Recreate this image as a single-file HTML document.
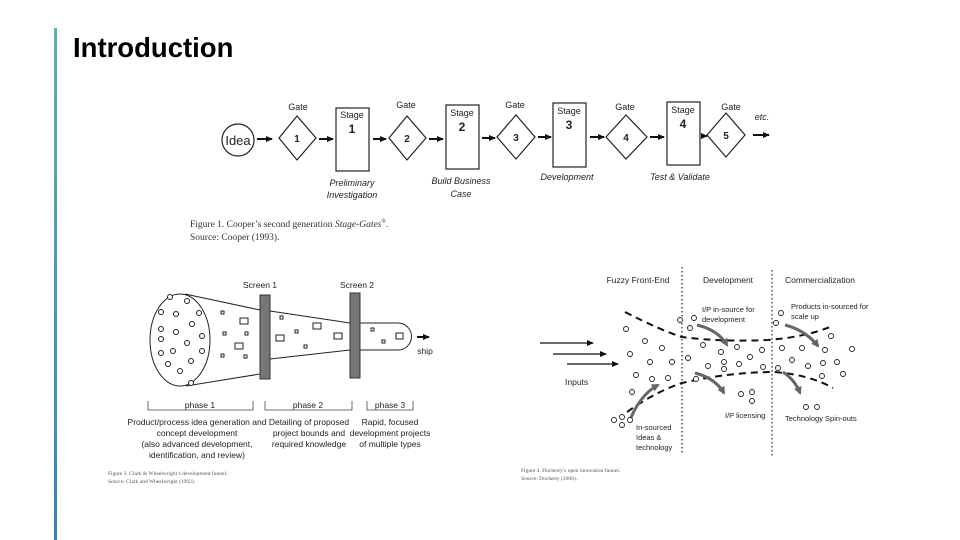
<!DOCTYPE html>
<html><head><meta charset="utf-8"><style>
html,body{margin:0;padding:0;background:#fff;}
body{width:960px;height:540px;position:relative;overflow:hidden;font-family:"Liberation Sans",sans-serif;}
.bar{position:absolute;left:54px;top:28px;width:3px;height:512px;background:linear-gradient(#5bb3a4,#3a7fc4);}
h1{position:absolute;left:73px;top:32px;margin:0;font-size:27.5px;font-weight:bold;color:#000;}
svg{position:absolute;left:0;top:0;}
</style></head><body>
<div class="bar"></div>
<h1>Introduction</h1>
<svg width="960" height="540" viewBox="0 0 960 540" font-family="Liberation Sans, sans-serif">
<defs>
<marker id="ah" markerUnits="userSpaceOnUse" markerWidth="7" markerHeight="7" refX="6" refY="3.5" orient="auto"><path d="M0,0.5 L7,3.5 L0,6.5 z" fill="#111"/></marker>
<marker id="gh" markerUnits="userSpaceOnUse" markerWidth="8" markerHeight="8" refX="6" refY="4" orient="auto"><path d="M0,0 L8,4 L0,8 z" fill="#666"/></marker>
</defs>
<!-- top stage gate -->
<g stroke="#222" fill="none" stroke-width="1.2">
<circle cx="238" cy="140" r="16"/>
<path d="M297,116 L316,138 L297,160 L279,138 Z"/>
<path d="M407,116 L426,138 L407,160 L389,138 Z"/>
<path d="M516,115 L535,137 L516,159 L497,137 Z"/>
<path d="M626,115 L647,137 L626,159 L606,137 Z"/>
<path d="M726,113 L745,135 L726,157 L707,135 Z"/>
<rect x="336" y="108" width="33" height="63"/>
<rect x="446" y="105" width="33" height="64"/>
<rect x="553" y="103" width="33" height="64"/>
<rect x="667" y="102" width="33" height="63"/>
</g>
<g stroke="#111" stroke-width="2" marker-end="url(#ah)">
<line x1="257" y1="139" x2="272" y2="139"/><line x1="319" y1="139" x2="333" y2="139"/>
<line x1="373" y1="139" x2="386" y2="139"/><line x1="429" y1="139" x2="443" y2="139"/>
<line x1="482" y1="138" x2="495" y2="138"/><line x1="538" y1="137" x2="551" y2="137"/>
<line x1="590" y1="137" x2="604" y2="137"/><line x1="650" y1="137" x2="664" y2="137"/>
<line x1="701" y1="136" x2="707" y2="136"/><line x1="753" y1="135" x2="769" y2="135"/>
</g>
<g font-size="9" fill="#222" text-anchor="middle">
<text x="238" y="145" font-size="13">Idea</text>
<text x="298" y="110">Gate</text><text x="406" y="108">Gate</text><text x="515" y="108">Gate</text><text x="625" y="110">Gate</text><text x="731" y="110">Gate</text>
<text x="762" y="120" font-style="italic">etc.</text>
<text x="352" y="118">Stage</text><text x="352" y="133" font-size="12" font-weight="bold">1</text>
<text x="462" y="116">Stage</text><text x="462" y="131" font-size="12" font-weight="bold">2</text>
<text x="569" y="114">Stage</text><text x="569" y="129" font-size="12" font-weight="bold">3</text>
<text x="683" y="113">Stage</text><text x="683" y="128" font-size="12" font-weight="bold">4</text>
<g font-size="10" font-weight="bold"><text x="297" y="142">1</text><text x="407" y="142">2</text><text x="516" y="141">3</text><text x="626" y="141">4</text><text x="726" y="139">5</text></g>
<g font-style="italic"><text x="352" y="186">Preliminary</text><text x="352" y="198">Investigation</text>
<text x="461" y="184">Build Business</text><text x="461" y="197">Case</text>
<text x="567" y="180">Development</text><text x="680" y="180">Test &amp; Validate</text></g>
</g>
<g font-family="Liberation Serif, serif" font-size="9.5" fill="#333">
<text x="190" y="227">Figure 1.  Cooper’s second generation <tspan font-style="italic">Stage-Gates</tspan><tspan font-size="6" dy="-4">®</tspan><tspan dy="4">.</tspan></text>
<text x="190" y="240">Source: Cooper (1993).</text>
</g>
<!-- funnel left -->
<g stroke="#222" fill="none" stroke-width="1">
<ellipse cx="180" cy="340" rx="30" ry="46"/>
<line x1="185" y1="294" x2="260" y2="310"/><line x1="186" y1="386" x2="260" y2="374"/>
<line x1="270" y1="311" x2="350" y2="323"/><line x1="270" y1="359" x2="350" y2="350"/>
<path d="M360,323 H398 A13.5,13.5 0 0 1 398,350 H360"/>
</g>
<rect x="260" y="295" width="10" height="84" fill="#777" stroke="#333"/>
<rect x="350" y="293" width="10" height="85" fill="#777" stroke="#333"/>
<line x1="417" y1="337" x2="429" y2="337" stroke="#111" stroke-width="2" marker-end="url(#ah)"/>
<g stroke="#222" fill="#fff" stroke-width="1">
<circle cx="170" cy="297" r="2.5"/><circle cx="187" cy="301" r="2.5"/><circle cx="161" cy="312" r="2.5"/><circle cx="176" cy="314" r="2.5"/><circle cx="199" cy="313" r="2.5"/><circle cx="192" cy="324" r="2.5"/><circle cx="161" cy="329" r="2.5"/><circle cx="176" cy="332" r="2.5"/><circle cx="202" cy="336" r="2.5"/><circle cx="161" cy="339" r="2.5"/><circle cx="187" cy="343" r="2.5"/><circle cx="161" cy="353" r="2.5"/><circle cx="173" cy="351" r="2.5"/><circle cx="202" cy="351" r="2.5"/><circle cx="191" cy="361" r="2.5"/><circle cx="168" cy="364" r="2.5"/><circle cx="180" cy="371" r="2.5"/><circle cx="191" cy="383" r="2.5"/>
<rect x="221" y="311" width="3" height="3"/><rect x="240" y="318" width="8" height="6"/><rect x="223" y="332" width="3" height="3"/><rect x="245" y="332" width="3" height="3"/><rect x="235" y="343" width="8" height="6"/><rect x="221" y="354" width="3" height="3"/><rect x="244" y="355" width="3" height="3"/>
<rect x="280" y="316" width="3" height="3"/><rect x="276" y="335" width="8" height="6"/><rect x="295" y="330" width="3" height="3"/><rect x="313" y="323" width="8" height="6"/><rect x="304" y="345" width="3" height="3"/><rect x="334" y="333" width="8" height="6"/><rect x="371" y="328" width="3" height="3"/><rect x="382" y="340" width="3" height="3"/><rect x="396" y="333" width="7" height="6"/>
</g>
<g font-size="8.5" fill="#222" text-anchor="middle">
<text x="260" y="288">Screen 1</text><text x="357" y="288">Screen 2</text><text x="425" y="354">ship</text>
<text x="200" y="408">phase 1</text><text x="308" y="408">phase 2</text><text x="390" y="408">phase 3</text>
<text x="197" y="425">Product/process idea generation and</text><text x="197" y="436">concept development</text><text x="197" y="447">(also advanced development,</text><text x="197" y="458">identification, and review)</text>
<text x="309" y="425">Detailing of proposed</text><text x="309" y="436">project bounds and</text><text x="309" y="447">required knowledge</text>
<text x="390" y="425">Rapid, focused</text><text x="390" y="436">development projects</text><text x="390" y="447">of multiple types</text>
</g>
<g stroke="#444" fill="none" stroke-width="0.8">
<path d="M148,401 V410 H253 V401"/><path d="M265,401 V410 H352 V401"/><path d="M367,401 V410 H413 V401"/>
</g>
<g font-family="Liberation Serif, serif" font-size="5.5" fill="#555">
<text x="108" y="475">Figure 3.  Clark &amp; Wheelwright’s development funnel.</text><text x="108" y="483">Source: Clark and Wheelwright (1992).</text>
<text x="521" y="472">Figure 4.  Docherty’s open innovation funnel.</text><text x="521" y="480">Source: Docherty (2006).</text>
</g>
<!-- right funnel -->
<g stroke="#222" stroke-width="1.2" stroke-dasharray="1.5,2.5">
<line x1="682" y1="267" x2="682" y2="455"/><line x1="772" y1="270" x2="772" y2="458"/>
</g>
<g stroke="#111" stroke-width="1.3" marker-end="url(#ah)">
<line x1="540" y1="343" x2="593" y2="343"/><line x1="553" y1="354" x2="606" y2="354"/><line x1="567" y1="364" x2="618" y2="364"/>
</g>
<g stroke="#111" stroke-width="2" fill="none" stroke-dasharray="7,5">
<path d="M625,312 Q660,330 682,337 Q720,342 768,340 Q805,337 830,327"/>
<path d="M627,412 Q655,392 682,383 Q730,372 775,372 Q810,375 833,388"/>
</g>
<g stroke="#666" stroke-width="3" fill="none" marker-end="url(#gh)">
<path d="M630,420 Q640,395 658,385"/><path d="M697,325 Q718,330 727,345"/><path d="M695,373 Q715,378 724,393"/><path d="M785,325 Q805,330 818,346"/><path d="M783,372 Q795,380 800,393"/>
</g>
<g stroke="#222" fill="#fff" stroke-width="0.9">
<circle cx="626" cy="329" r="2.5"/><circle cx="645" cy="341" r="2.5"/><circle cx="630" cy="354" r="2.5"/><circle cx="662" cy="348" r="2.5"/><circle cx="650" cy="362" r="2.5"/><circle cx="672" cy="362" r="2.5"/><circle cx="636" cy="375" r="2.5"/><circle cx="652" cy="379" r="2.5"/><circle cx="668" cy="378" r="2.5"/><circle cx="632" cy="392" r="2.5"/><circle cx="680" cy="320" r="2.5"/><circle cx="694" cy="318" r="2.5"/><circle cx="690" cy="328" r="2.5"/><circle cx="703" cy="345" r="2.5"/><circle cx="688" cy="358" r="2.5"/><circle cx="708" cy="366" r="2.5"/><circle cx="721" cy="352" r="2.5"/><circle cx="724" cy="362" r="2.5"/><circle cx="724" cy="369" r="2.5"/><circle cx="737" cy="347" r="2.5"/><circle cx="739" cy="364" r="2.5"/><circle cx="750" cy="357" r="2.5"/><circle cx="762" cy="350" r="2.5"/><circle cx="763" cy="367" r="2.5"/><circle cx="696" cy="379" r="2.5"/><circle cx="741" cy="394" r="2.5"/><circle cx="752" cy="392" r="2.5"/><circle cx="752" cy="401" r="2.5"/><circle cx="781" cy="313" r="2.5"/><circle cx="776" cy="323" r="2.5"/><circle cx="782" cy="348" r="2.5"/><circle cx="792" cy="360" r="2.5"/><circle cx="802" cy="348" r="2.5"/><circle cx="808" cy="366" r="2.5"/><circle cx="825" cy="350" r="2.5"/><circle cx="831" cy="336" r="2.5"/><circle cx="823" cy="363" r="2.5"/><circle cx="837" cy="362" r="2.5"/><circle cx="852" cy="349" r="2.5"/><circle cx="843" cy="374" r="2.5"/><circle cx="822" cy="376" r="2.5"/><circle cx="778" cy="368" r="2.5"/><circle cx="806" cy="407" r="2.5"/><circle cx="817" cy="407" r="2.5"/><circle cx="614" cy="420" r="2.5"/><circle cx="622" cy="417" r="2.5"/><circle cx="630" cy="420" r="2.5"/><circle cx="622" cy="425" r="2.5"/>
</g>
<g font-size="8.5" fill="#222">
<g text-anchor="middle"><text x="638" y="283">Fuzzy Front-End</text><text x="728" y="283">Development</text><text x="820" y="283">Commercialization</text></g>
<text x="565" y="385">Inputs</text>
<text x="702" y="312" font-size="7.5">I/P in-source for</text><text x="702" y="322" font-size="7.5">development</text>
<text x="791" y="309" font-size="7.5">Products in-sourced for</text><text x="791" y="319" font-size="7.5">scale up</text>
<text x="725" y="418" font-size="7.5">I/P licensing</text><text x="785" y="421" font-size="7.5">Technology Spin-outs</text>
<text x="636" y="430" font-size="7.5">In-sourced</text><text x="636" y="440" font-size="7.5">Ideas &amp;</text><text x="636" y="450" font-size="7.5">technology</text>
</g>
</svg>
</body></html>
